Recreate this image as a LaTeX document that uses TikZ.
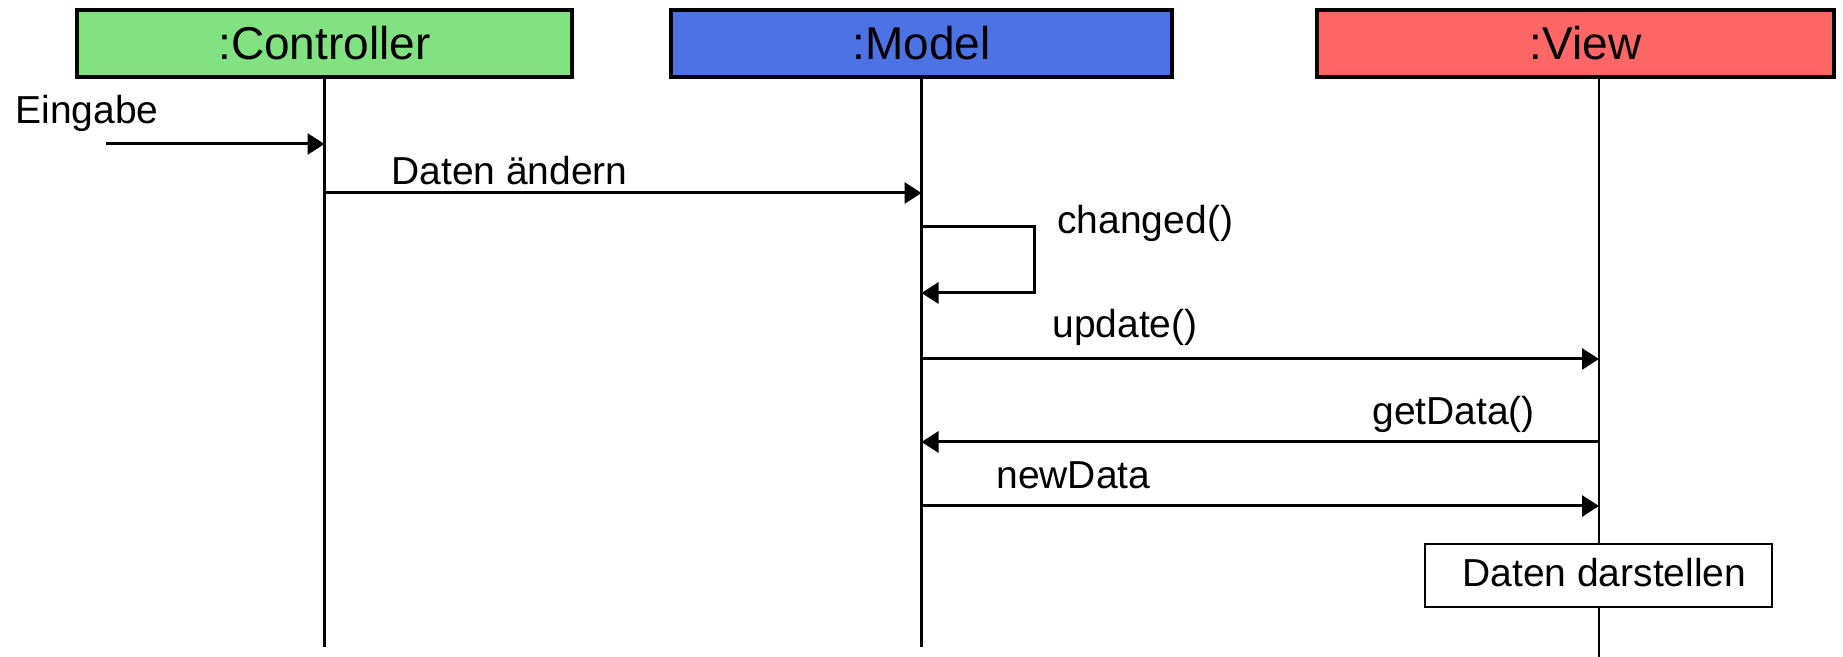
\documentclass[tikz,border=0pt]{standalone}
\usepackage{fontspec}
\setmainfont{Liberation Sans}
\usetikzlibrary{arrows.meta}
\definecolor{ctrlgreen}{RGB}{130,226,130}
\definecolor{modelblue}{RGB}{77,114,228}
\definecolor{viewred}{RGB}{255,102,102}

\begin{document}
\begin{tikzpicture}[x=0.5pt,y=-0.5pt,
  head/.style={draw=black,line width=2pt,inner sep=0pt,outer sep=0pt,
    minimum height=33.5pt,font=\fontsize{23}{27}\selectfont},
  life/.style={line width=1.4pt},
  msg/.style={line width=1.5pt,line join=miter,
    -{Triangle[length=8.5pt,width=10.5pt]}},
  lbl/.style={anchor=base west,inner sep=0pt,font=\fontsize{19.5}{23}\selectfont},
  actbox/.style={draw=black,fill=white,line width=1.4pt,inner sep=0pt,
    minimum width=173.5pt,minimum height=31.5pt},
]
\useasboundingbox (0,0) rectangle (1843,657);

% object heads
\node[head,fill=ctrlgreen,minimum width=247.5pt] (ctrl) at (324.5,43.5) {:Controller};
\node[head,fill=modelblue,minimum width=250.5pt] (model) at (921.5,43.5) {:Model};
\node[head,fill=viewred,minimum width=258.5pt] (view) at (1575.5,43.5) {\hspace*{10pt}:View};

% lifelines
\coordinate (ctrlEnd) at (324.5,647);
\coordinate (modelEnd) at (921.5,647);
\coordinate (viewEnd) at (1599,657);
\draw[life] (ctrl.south) -- (ctrlEnd);
\draw[life] (model.south) -- (modelEnd);
\draw[life] (view.south -| viewEnd) -- (viewEnd);

% message end points on the lifelines
\coordinate (inStart) at (106,144);
\coordinate (c1) at (324.5,144);
\coordinate (c2) at (324.5,193);
\coordinate (m1) at (921.5,193);
\coordinate (m2) at (921.5,227);
\coordinate (loopR) at (1034,227);
\coordinate (m3) at (921.5,293);
\coordinate (m4) at (921.5,359);
\coordinate (v1) at (1599,359);
\coordinate (v2) at (1599,442);
\coordinate (m5) at (921.5,442);
\coordinate (m6) at (921.5,506);
\coordinate (v3) at (1599,506);

% messages
\draw[msg] (inStart) -- (c1);
\draw[msg] (c2) -- (m1);
\draw[msg] (m2) -- (loopR) |- (m3);
\draw[msg] (m4) -- (v1);
\draw[msg] (v2) -- (m5);
\draw[msg] (m6) -- (v3);

% message labels
\node[lbl] (tIn) at (15,124) {Eingabe};
\node[lbl] (tChange) at (391,185) {Daten ändern};
\node[lbl] (tChanged) at (1057,234) {changed()};
\node[lbl] (tUpdate) at (1052,338) {update()};
\node[lbl] (tGet) at (1372,425) {getData()};
\node[lbl] (tNew) at (996,489) {newData};

% activity on the view
\node[actbox] (show) at (1598.5,575.5) {};
\node[lbl] (tShow) at (1462,587) {Daten darstellen};
\end{tikzpicture}
\end{document}
